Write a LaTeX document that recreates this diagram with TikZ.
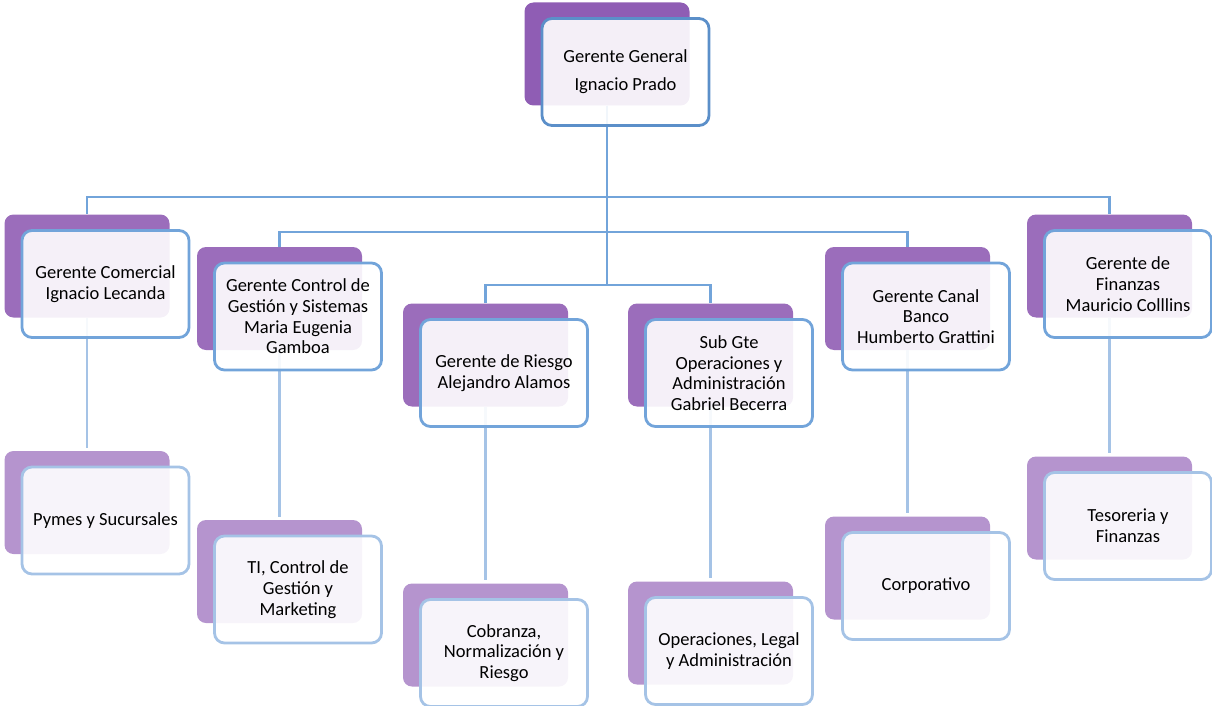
\documentclass[tikz,border=0pt]{standalone}
\usepackage{fontspec}
\setmainfont{Carlito}
\usepackage{tikz}
\usetikzlibrary{calc}

\definecolor{topPurple}{HTML}{8F5DB4}
\definecolor{midPurple}{HTML}{9B6DBB}
\definecolor{lowPurple}{HTML}{B594CE}
\definecolor{topBlue}{HTML}{5B8FC9}
\definecolor{midBlue}{HTML}{72A4DA}
\definecolor{lowBlue}{HTML}{A5C3E6}

\begin{document}
\begin{tikzpicture}[x=1pt, y=-1pt,
    back/.style={
      rectangle,
      rounded corners=9pt,
      inner sep=0pt,
      minimum width=165pt,
      minimum height=103pt
    },
    front/.style={
      rectangle,
      rounded corners=10pt,
      line width=2.8pt,
      fill=white,
      fill opacity=0.9,
      text opacity=1,
      align=center,
      minimum width=167pt,
      minimum height=107pt,
      font=\fontsize{18.5}{20.7}\selectfont
    },
    link/.style={line width=2.8pt}
]
\useasboundingbox (0,0) rectangle (1212,706);

%% Back plates
\node [back, fill=topPurple] (ggb) at (607,54) {};
\node [back, fill=midPurple] (comb) at (87,266) {};
\node [back, fill=midPurple] (ctlb) at (279.5,298.5) {};
\node [back, fill=midPurple] (rsgb) at (485.5,355) {};
\node [back, fill=midPurple] (subb) at (710.5,355) {};
\node [back, fill=midPurple] (canb) at (907.5,298.5) {};
\node [back, fill=midPurple] (finb) at (1109.5,266) {};
\node [back, fill=lowPurple] (pymb) at (87,502.5) {};
\node [back, fill=lowPurple] (tib) at (279.5,571.5) {};
\node [back, fill=lowPurple] (cobb) at (485.5,635) {};
\node [back, fill=lowPurple] (oplb) at (710.5,633) {};
\node [back, fill=lowPurple] (corb) at (907.5,568) {};
\node [back, fill=lowPurple] (tesb) at (1109.5,508) {};

%% Buses
\coordinate (busa) at (0,197);
\coordinate (busb) at (0,232);
\coordinate (busc) at (0,285);

%% Lines
\draw [link, draw=midBlue] (ggb.south) |- (comb.north |- busa) -- (comb.north);
\draw [link, draw=midBlue] (ggb.south) |- (finb.north |- busa) -- (finb.north);
\draw [link, draw=midBlue] (ggb.south) |- (ctlb.north |- busb) -- (ctlb.north);
\draw [link, draw=midBlue] (ggb.south) |- (canb.north |- busb) -- (canb.north);
\draw [link, draw=midBlue] (ggb.south) |- (rsgb.north |- busc) -- (rsgb.north);
\draw [link, draw=midBlue] (ggb.south) |- (subb.north |- busc) -- (subb.north);
\draw [link, draw=lowBlue] (comb.south) -- ([yshift=3pt]pymb.north);
\draw [link, draw=lowBlue] (ctlb.south) -- ([yshift=3pt]tib.north);
\draw [link, draw=lowBlue] (rsgb.south) -- ([yshift=3pt]cobb.north);
\draw [link, draw=lowBlue] (subb.south) -- ([yshift=3pt]oplb.north);
\draw [link, draw=lowBlue] (canb.south) -- ([yshift=3pt]corb.north);
\draw [link, draw=lowBlue] (finb.south) -- ([yshift=3pt]tesb.north);

%% Front cards
\node [front, draw=topBlue] (gg) at ($(ggb)+(18.5,18)$) {Gerente General\\[7pt]Ignacio Prado};
\node [front, draw=midBlue] (com) at ($(comb)+(18.5,18)$) {Gerente Comercial\\Ignacio Lecanda};
\node [front, draw=midBlue] (ctl) at ($(ctlb)+(18.5,18)$) {Gerente Control de\\Gestión y Sistemas\\Maria Eugenia\\Gamboa};
\node [front, draw=midBlue] (rsg) at ($(rsgb)+(18.5,18)$) {Gerente de Riesgo\\Alejandro Alamos};
\node [front, draw=midBlue] (sub) at ($(subb)+(18.5,18)$) {Sub Gte\\Operaciones y\\Administración\\Gabriel Becerra};
\node [front, draw=midBlue] (can) at ($(canb)+(18.5,18)$) {Gerente Canal\\Banco\\Humberto Grattini};
\node [front, draw=midBlue] (fin) at ($(finb)+(18.5,18)$) {Gerente de\\Finanzas\\Mauricio Colllins};
\node [front, draw=lowBlue] (pym) at ($(pymb)+(18.5,18)$) {Pymes y Sucursales};
\node [front, draw=lowBlue] (ti) at ($(tib)+(18.5,18)$) {TI, Control de\\Gestión y\\Marketing};
\node [front, draw=lowBlue] (cob) at ($(cobb)+(18.5,18)$) {Cobranza,\\Normalización y\\Riesgo};
\node [front, draw=lowBlue] (opl) at ($(oplb)+(18.5,18)$) {Operaciones, Legal\\y Administración};
\node [front, draw=lowBlue] (cor) at ($(corb)+(18.5,18)$) {Corporativo};
\node [front, draw=lowBlue] (tes) at ($(tesb)+(18.5,18)$) {Tesoreria y\\Finanzas};

\end{tikzpicture}
\end{document}
